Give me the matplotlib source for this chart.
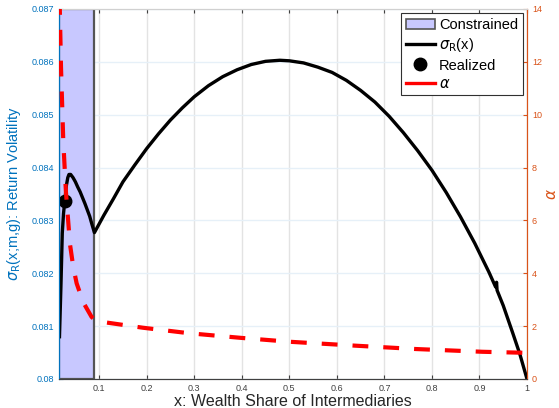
import numpy as np
import matplotlib
matplotlib.use("Agg")
import matplotlib.pyplot as plt
from matplotlib.patches import Patch
from matplotlib.lines import Line2D

plt.rcParams['font.family'] = ['Liberation Sans', 'DejaVu Sans']
plt.rcParams['mathtext.fontset'] = 'dejavusans'

# colours (matlab defaults)
BLUE = '#0072BD'
ORANGE = '#D95319'

# sigma_R(x)
x_sigma = [0.0165, 0.0197, 0.0224, 0.025, 0.028, 0.031, 0.034, 0.0365, 0.04, 0.045, 0.05, 0.055,
           0.06, 0.065, 0.07, 0.075, 0.08, 0.085, 0.09,
           0.11, 0.13, 0.15, 0.175, 0.20, 0.225, 0.25, 0.275, 0.30, 0.33, 0.36, 0.39, 0.42, 0.45, 0.48,
           0.50, 0.53, 0.56, 0.59, 0.62, 0.65, 0.68, 0.71, 0.74, 0.77, 0.80, 0.83, 0.86, 0.89, 0.92,
           0.934, 0.936, 0.937, 0.95, 0.97, 0.985, 1.0]
sigma = [0.0808, 0.08181, 0.08276, 0.08313, 0.08340, 0.08366, 0.08381, 0.08387, 0.08387, 0.08381,
         0.08373, 0.08363, 0.08354, 0.08343, 0.08332, 0.08320, 0.08308, 0.08292, 0.08277,
         0.08310, 0.08341, 0.08373, 0.08405, 0.08436, 0.08464, 0.08490, 0.08513, 0.08534, 0.08555,
         0.08572, 0.08585, 0.08595, 0.08601, 0.08603,
         0.08602, 0.08598, 0.08590, 0.08580, 0.08565, 0.08546, 0.08524, 0.08497, 0.08466, 0.08432,
         0.08395, 0.08353, 0.08307, 0.08257, 0.08202,
         0.08174, 0.08183, 0.08168, 0.08139, 0.08087, 0.08047, 0.0800]

# alpha
x_alpha = [0.0165, 0.0197, 0.0245, 0.030, 0.0386, 0.0455, 0.0526, 0.0665, 0.084, 0.0945, 0.192, 0.29,
           0.396, 0.5, 0.64, 0.765, 0.906, 1.0]
alpha = [14.6, 11.8, 9.0, 7.1, 5.1, 4.24, 3.62, 2.9, 2.35, 2.19, 1.94, 1.73, 1.56, 1.41, 1.26, 1.135, 1.03, 0.99]

# realized point
x_real = [0.028]
sigma_real = [0.08336]

# constrained region
x_lo, x_hi = 0.0155, 0.09

xticks = [0.1, 0.2, 0.3, 0.4, 0.5, 0.6, 0.7, 0.8, 0.9, 1.0]
xticklabels = ['0.1', '0.2', '0.3', '0.4', '0.5', '0.6', '0.7', '0.8', '0.9', '1']
lticks = [0.080, 0.081, 0.082, 0.083, 0.084, 0.085, 0.086, 0.087]
lticklabels = ['0.08', '0.081', '0.082', '0.083', '0.084', '0.085', '0.086', '0.087']
rticks = [0, 2, 4, 6, 8, 10, 12, 14]

fig = plt.figure(figsize=(5.59, 4.08), dpi=100)
ax = fig.add_axes([59 / 559, 29 / 408, 468 / 559, 370 / 408])
ax2 = ax.twinx()

ax.axvspan(x_lo, x_hi, facecolor='#c8c8ff', edgecolor='#555555', lw=1.6, zorder=1)
ax.plot(x_sigma, sigma, color='black', lw=2.4, zorder=3, solid_joinstyle='round')
ax.plot(x_real, sigma_real, 'o', color='black', ms=9, zorder=4)
ax2.plot(x_alpha, alpha, color='red', lw=3.0, dashes=(3.8, 3.6), zorder=3)

ax.set_xlim(x_lo, 1.0)
ax.set_ylim(0.080, 0.087)
ax2.set_ylim(0, 14)

ax.set_xticks(xticks)
ax.set_xticklabels(xticklabels)
ax.set_yticks(lticks)
ax.set_yticklabels(lticklabels)
ax2.set_yticks(rticks)

ax.xaxis.grid(True, color='#e3e3e3', lw=1.0)
ax.yaxis.grid(True, color='#e6f0f8', lw=1.0)
ax.set_axisbelow(True)

ax.tick_params(axis='x', direction='in', length=3, labelsize=6.5, colors='#404040', top=True)
ax.tick_params(axis='y', direction='in', length=3, labelsize=6.5, colors=BLUE)
ax2.tick_params(axis='y', direction='in', length=3, labelsize=6.5, colors=ORANGE)

for a in (ax, ax2):
    a.spines['left'].set_color(BLUE)
    a.spines['right'].set_color(ORANGE)
    a.spines['bottom'].set_color('#404040')
    a.spines['top'].set_color('#d0d0d0')

ax.set_xlabel('x: Wealth Share of Intermediaries', fontsize=11.5, color='#262626', labelpad=1)
ax.set_ylabel(r'$\sigma_{\rm R}$(x;m,g): Return Volatility', fontsize=10.5, color=BLUE, labelpad=6)
ax2.set_ylabel(r'$\alpha$', fontsize=11, color=ORANGE, labelpad=2)

handles = [Patch(facecolor='#c8c8ff', edgecolor='#555555', lw=1.2),
           Line2D([], [], color='black', lw=2.4),
           Line2D([], [], marker='o', color='black', ls='none', ms=9),
           Line2D([], [], color='red', lw=2.4)]
labels = ['Constrained', r'$\sigma_{\rm R}$(x)', 'Realized', r'$\alpha$']
leg = ax2.legend(handles, labels, loc='upper right', fontsize=10.5, fancybox=False,
                 framealpha=1, edgecolor='#303030', borderaxespad=0.3,
                 handlelength=2.0, handletextpad=0.3, labelspacing=0.3, borderpad=0.3)
leg.get_frame().set_linewidth(0.8)
leg.set_zorder(10)

fig.savefig('out.png', dpi=100)
